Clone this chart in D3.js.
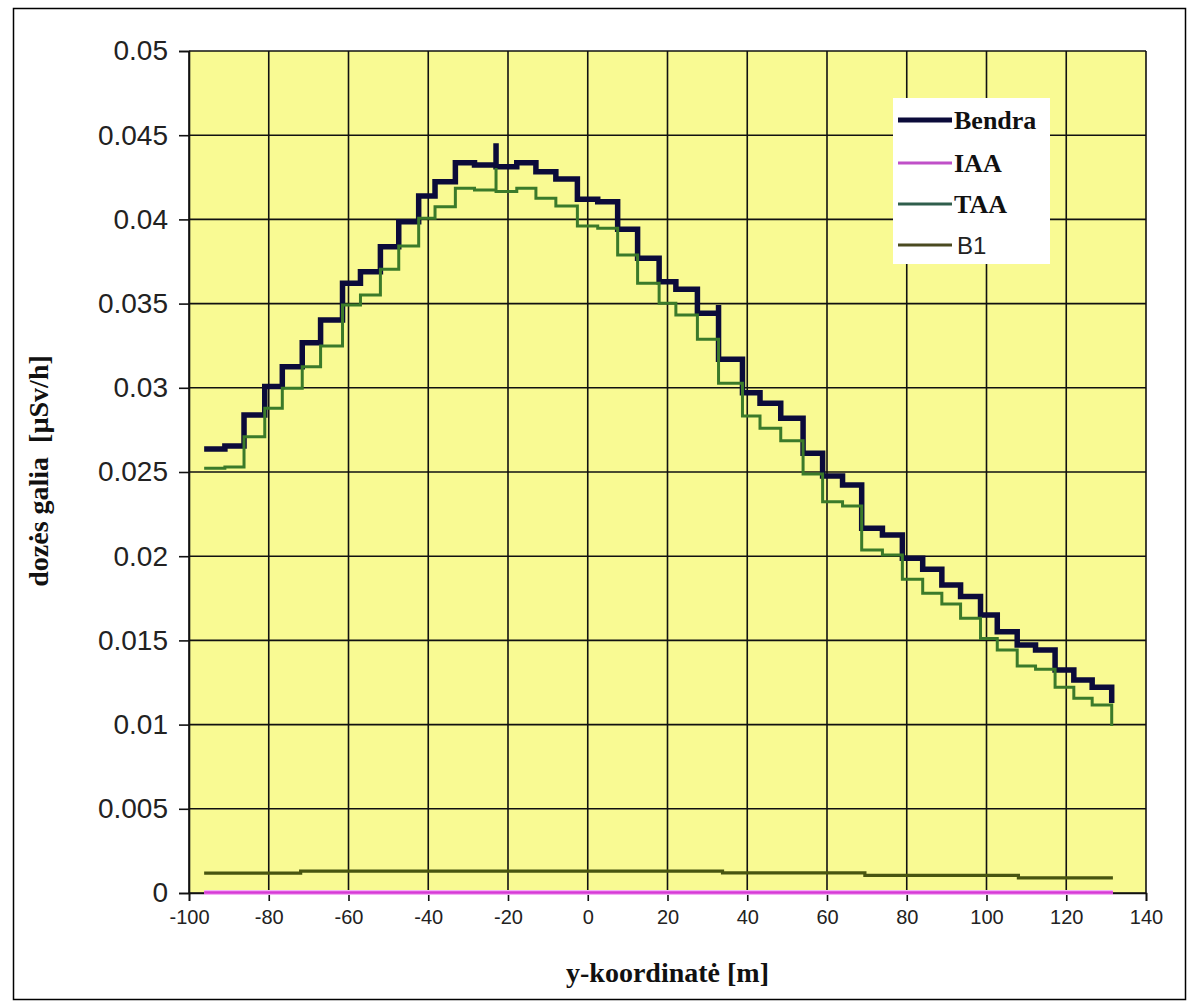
<!DOCTYPE html>
<html><head><meta charset="utf-8">
<script src="https://cdn.jsdelivr.net/npm/d3@7"></script>
<style>body{margin:0;background:#fff}</style>
</head><body><svg id="c" width="1195" height="1003"></svg>
<script>
// ---------- data ----------
const xTicks = [-100,-80,-60,-40,-20,0,20,40,60,80,100,120,140];
const yTicks = [0,0.005,0.01,0.015,0.02,0.025,0.03,0.035,0.04,0.045,0.05];
const yTickLabels = ["0","0.005","0.01","0.015","0.02","0.025","0.03","0.035","0.04","0.045","0.05"];
const seriesNames = ["Bendra","IAA","TAA","B1"];

// step positions (y-koordinatė, m), step-after
const stepX = [-96.2,-91,-86.2,-81,-76.6,-71.6,-67,-61.5,-57,-52,-47.4,-42.4,-38.3,-33.2,-28.4,-23,-23,-17.8,-13,-8,-2.6,2.5,7.5,12.5,17.9,22.1,27.5,32.8,32.8,38.8,43.2,48.4,54,58.9,63.9,68.7,73.9,78.9,84,88.8,93.5,98.5,102.7,107.7,112.3,117.2,121.9,126.5,131.4,131.4];
const bendra = [0.02637,0.02654,0.02838,0.03007,0.03125,0.03268,0.03403,0.03621,0.03689,0.03838,0.03986,0.04139,0.04224,0.04337,0.04323,0.04452,0.04313,0.04337,0.04283,0.0424,0.04119,0.04105,0.03941,0.03769,0.0363,0.03585,0.03442,0.03492,0.03169,0.02971,0.02908,0.02819,0.02611,0.02476,0.02423,0.02166,0.02126,0.01988,0.01922,0.01829,0.0176,0.01651,0.01552,0.01473,0.01443,0.01324,0.01265,0.01222,0.01222,0.01128];
const taa = [0.02522,0.0253,0.0271,0.02878,0.02997,0.03125,0.03248,0.03492,0.03551,0.03704,0.03842,0.04007,0.04075,0.04185,0.04175,0.04305,0.04165,0.04185,0.04125,0.0408,0.03961,0.03947,0.03789,0.03621,0.03502,0.03432,0.03288,0.03027,0.03027,0.02833,0.0276,0.02686,0.02488,0.02324,0.02298,0.02037,0.02007,0.01863,0.0178,0.01716,0.01631,0.01512,0.01443,0.01348,0.01328,0.01222,0.01156,0.01116,0.01116,0.00992];
const b1X = [-96.2,-72,33.8,69.5,108,131.7];
const b1 = [0.00118,0.0013,0.00119,0.00105,0.0009,0.0009];
const iaaX = [-96.2,131.7];
const iaa = [0.00003,0.00003];

// ---------- chart ----------
const svg = d3.select("#c");
const L = 189, R = 1146, T = 51, B = 893;
const x = d3.scaleLinear().domain([-100,140]).range([L,R]);
const y = d3.scaleLinear().domain([0,0.05]).range([B,T]);

// outer frame
svg.append("rect").attr("x",13.5).attr("y",8.5).attr("width",1172).attr("height",991)
  .attr("fill","#fff").attr("stroke","#000").attr("stroke-width",1.5);

// plot area
svg.append("rect").attr("x",L).attr("y",T).attr("width",R-L).attr("height",B-T)
  .attr("fill","#f9fa93");

// grid
const grid = svg.append("g");
grid.selectAll("line.v").data(xTicks).join("line").attr("class","v")
  .attr("x1",d=>x(d)).attr("x2",d=>x(d)).attr("y1",T).attr("y2",B)
  .attr("stroke","#111").attr("stroke-width",1.6);
grid.selectAll("line.h").data(yTicks).join("line").attr("class","h")
  .attr("x1",L).attr("x2",R).attr("y1",d=>y(d)).attr("y2",d=>y(d))
  .attr("stroke","#111").attr("stroke-width",1.6);

// axes
const yAxis = svg.append("g").attr("transform",`translate(${L},0)`)
  .call(d3.axisLeft(y).tickValues(yTicks).tickFormat((d,i)=>yTickLabels[i]).tickSize(10).tickPadding(11));
const xAxis = svg.append("g").attr("transform",`translate(0,${B})`)
  .call(d3.axisBottom(x).tickValues(xTicks).tickFormat(d=>String(d)).tickSize(8).tickPadding(9));
[yAxis,xAxis].forEach(g=>{
  g.select(".domain").attr("stroke","#111").attr("stroke-width",1.6);
  g.selectAll(".tick line").attr("stroke","#111").attr("stroke-width",1.6);
  g.selectAll("text").attr("fill","#222").attr("font-family","'Liberation Sans', Arial, sans-serif");
});
yAxis.selectAll("text").attr("font-size",28);
xAxis.selectAll("text").attr("font-size",20);

// series
const stepLine = d3.line().x(d=>x(d[0])).y(d=>y(d[1])).curve(d3.curveStepAfter);
const zip = (xs,vs)=>xs.map((v,i)=>[v,vs[i]]);
svg.append("path").datum(zip(stepX,bendra)).attr("d",stepLine)
  .attr("fill","none").attr("stroke","#0b0b3a").attr("stroke-width",5.5).attr("stroke-linejoin","miter");
svg.append("path").datum(zip(iaaX,iaa)).attr("d",stepLine)
  .attr("fill","none").attr("stroke","#f4b0f4").attr("stroke-width",5);
svg.append("path").datum(zip(iaaX,iaa)).attr("d",stepLine)
  .attr("fill","none").attr("stroke","#d63ad6").attr("stroke-width",2.5);
svg.append("path").datum(zip(stepX,taa)).attr("d",stepLine)
  .attr("fill","none").attr("stroke","#3b7a2a").attr("stroke-width",3);
svg.append("path").datum(zip(b1X,b1)).attr("d",stepLine)
  .attr("fill","none").attr("stroke","#485510").attr("stroke-width",3.2);

// legend
const lg = svg.append("g");
lg.append("rect").attr("x",893).attr("y",98).attr("width",157).attr("height",166).attr("fill","#fff");
const legendColors = ["#0b0b3a","#c050c8","#2f5e4c","#4a4a20"];
const legendWidths = [5,3,3,3];
const legendY = [120,163,204,245];
seriesNames.forEach((n,i)=>{
  lg.append("line").attr("x1",898).attr("x2",952).attr("y1",legendY[i]).attr("y2",legendY[i])
    .attr("stroke",legendColors[i]).attr("stroke-width",legendWidths[i]);
  const t = lg.append("text").attr("x",i===3?957:954).attr("y",legendY[i]+9).text(n).attr("fill","#111");
  if(i<3) t.attr("font-family","'Liberation Serif','Times New Roman',serif").attr("font-weight","bold").attr("font-size",26);
  else t.attr("font-family","'Liberation Sans',Arial,sans-serif").attr("font-size",24).attr("fill","#222");
});

// axis titles
svg.append("text").attr("x",(L+R)/2).attr("y",982).attr("text-anchor","middle")
  .attr("font-family","'Liberation Serif','Times New Roman',serif").attr("font-weight","bold").attr("font-size",28)
  .attr("fill","#111").text("y-koordinatė [m]");
svg.append("text").attr("transform","translate(48,471) rotate(-90)").attr("text-anchor","middle")
  .attr("font-family","'Liberation Serif','Times New Roman',serif").attr("font-weight","bold").attr("font-size",28)
  .attr("fill","#111").attr("xml:space","preserve").text("dozės galia  [µSv/h]");
</script></body></html>
